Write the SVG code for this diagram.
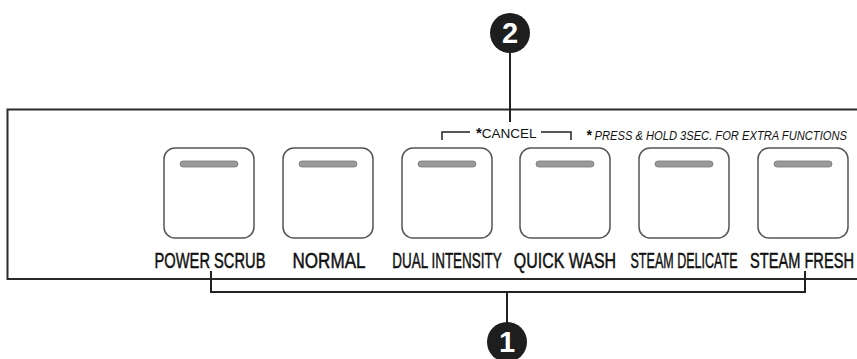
<svg xmlns="http://www.w3.org/2000/svg" width="857" height="359" viewBox="0 0 857 359">
<style>
.panel{fill:none;stroke:#2a2a2a;stroke-width:2}
.btn{fill:#fff;stroke:#555;stroke-width:1.5}
.pill{fill:#9a9a9a;stroke:#777;stroke-width:0.8}
.lbl{font-family:"Liberation Sans",Arial,sans-serif;font-size:22px;fill:#111;stroke:#111;stroke-width:0.5;text-anchor:middle}
.note{font-family:"Liberation Sans",Arial,sans-serif;font-size:12px;fill:#111}
.star{font-weight:bold;font-size:15px}
.lead{fill:none;stroke:#222;stroke-width:2}
.badge{fill:#1e1e1e}
.num{font-family:"Liberation Sans",Arial,sans-serif;font-weight:bold;font-size:29px;fill:#fff;text-anchor:middle}
</style>
<rect width="857" height="359" fill="#fff"/>
<g id="panel">
<path class="panel" d="M857,109.5 H7.5 V279 H857"/>
</g>
<g id="btn-power-scrub">
<rect class="btn" x="164" y="148" width="90" height="90" rx="11"/>
<rect class="pill" x="180" y="161" width="58" height="6" rx="3"/>
<g transform="translate(210,268) scale(0.668,1)"><text class="lbl" x="0" y="0">POWER SCRUB</text></g>
</g>
<g id="btn-normal">
<rect class="btn" x="283" y="148" width="90" height="90" rx="11"/>
<rect class="pill" x="299" y="161" width="58" height="6" rx="3"/>
<g transform="translate(329,268) scale(0.776,1)"><text class="lbl" x="0" y="0">NORMAL</text></g>
</g>
<g id="btn-dual-intensity">
<rect class="btn" x="402" y="148" width="90" height="90" rx="11"/>
<rect class="pill" x="418" y="161" width="58" height="6" rx="3"/>
<g transform="translate(447,268) scale(0.612,1)"><text class="lbl" x="0" y="0">DUAL INTENSITY</text></g>
</g>
<g id="btn-quick-wash">
<rect class="btn" x="520" y="148" width="90" height="90" rx="11"/>
<rect class="pill" x="536" y="161" width="58" height="6" rx="3"/>
<g transform="translate(565,268) scale(0.726,1)"><text class="lbl" x="0" y="0">QUICK WASH</text></g>
</g>
<g id="btn-steam-delicate">
<rect class="btn" x="639" y="148" width="90" height="90" rx="11"/>
<rect class="pill" x="655" y="161" width="58" height="6" rx="3"/>
<g transform="translate(684,268) scale(0.57,1)"><text class="lbl" x="0" y="0">STEAM DELICATE</text></g>
</g>
<g id="btn-steam-fresh">
<rect class="btn" x="758" y="148" width="90" height="90" rx="11"/>
<rect class="pill" x="774" y="161" width="58" height="6" rx="3"/>
<g transform="translate(802,268) scale(0.665,1)"><text class="lbl" x="0" y="0">STEAM FRESH</text></g>
</g>
<g id="cancel-note">
<path class="lead" style="stroke-width:1.5" d="M442,140 V132 H470 M541,132 H571 V140"/>
<text class="note" x="476" y="138" style="font-size:13.5px"><tspan class="star">*</tspan>CANCEL</text>
</g>
<g id="hold-note">
<g transform="translate(586,140) scale(0.93,1)"><text class="note" x="0" y="0" font-style="italic"><tspan class="star">*</tspan> PRESS &amp; HOLD 3SEC. FOR EXTRA  FUNCTIONS</text></g>
</g>
<g id="connectors">
<path class="lead" d="M510,52 V122"/>
<path class="lead" d="M211,271 V292 H805 V271 M507,292 V324"/>
</g>
<g id="badge-2">
<circle class="badge" cx="510" cy="33" r="20"/>
<text class="num" x="510" y="43">2</text>
</g>
<g id="badge-1">
<circle class="badge" cx="507" cy="342" r="20"/>
<text class="num" x="507" y="352">1</text>
</g>
</svg>
